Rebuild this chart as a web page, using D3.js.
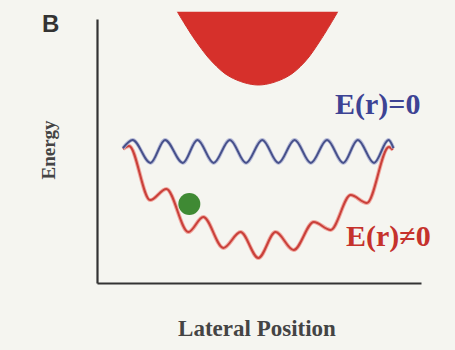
<!DOCTYPE html>
<html>
<head>
<meta charset="utf-8">
<script src="https://cdn.jsdelivr.net/npm/d3@7"></script>
<style>
  html, body { margin: 0; padding: 0; background: #f5f5f0; }
  svg { display: block; }
</style>
</head>
<body>
<svg id="chart" width="455" height="350"></svg>
<script>
// ---- data (arbitrary units: lateral position 0..10, energy 0..10) ----
const panelLabel = "B";
const xAxisTitle = "Lateral Position";
const yAxisTitle = "Energy";
const flatLabel = "E(r)=0";
const fieldLabel = "E(r)\u22600";

// E(r)=0 : periodic potential, no field
const flatX = [0.80, 1.10, 1.65, 2.10, 2.65, 3.10, 3.60, 4.10, 4.60, 5.10, 5.60, 6.10, 6.60, 7.10, 7.60, 8.05, 8.55, 9.00, 9.15];
const flatY = [5.11, 5.42, 4.55, 5.42, 4.55, 5.42, 4.55, 5.42, 4.55, 5.42, 4.55, 5.42, 4.55, 5.42, 4.55, 5.42, 4.55, 5.42, 5.11];

// E(r)≠0 : periodic potential tilted into a well
const fieldX = [0.80, 0.99, 1.64, 2.14, 2.82, 3.28, 3.90, 4.43, 4.98, 5.51, 6.07, 6.69, 7.21, 7.83, 8.33, 9.01, 9.13];
const fieldY = [5.08, 5.19, 3.14, 3.56, 1.93, 2.50, 1.33, 1.93, 0.95, 1.93, 1.25, 2.31, 2.01, 3.33, 3.03, 5.15, 5.04];

// red parabolic well at top (tip of probe)
const wellX = [2.48, 3.03, 3.56, 4.12, 4.98, 5.85, 6.41, 6.90, 7.43];
const wellY = [10.27, 9.20, 8.37, 7.80, 7.50, 7.80, 8.37, 9.20, 10.27];

// particle sitting on the tilted potential
const particleX = [2.85];
const particleY = [2.99];

// ---- drawing ----
const svg = d3.select("#chart");
const x = d3.scaleLinear().domain([0, 10]).range([97, 421]);
const y = d3.scaleLinear().domain([0, 10]).range([283, 19]);

const zip = (xs, ys) => xs.map((v, i) => [v, ys[i]]);

// well
svg.append("path")
  .datum(zip(wellX, wellY))
  .attr("d", d3.line().x(d => x(d[0])).y(d => y(d[1])).curve(d3.curveCatmullRom.alpha(0.5)))
  .attr("fill", "#d6302b")
  .attr("stroke", "#cf2d28")
  .attr("stroke-width", 1);

// axes
svg.append("g")
  .attr("transform", `translate(0,${y(0)})`)
  .call(d3.axisBottom(x).ticks(0).tickSizeOuter(0))
  .call(g => g.select(".domain").attr("stroke", "#333").attr("stroke-width", 2.2));
svg.append("g")
  .attr("transform", `translate(${x(0)},0)`)
  .call(d3.axisLeft(y).ticks(0).tickSizeOuter(0))
  .call(g => g.select(".domain").attr("stroke", "#333").attr("stroke-width", 2.2));

const line = d3.line().x(d => x(d[0])).y(d => y(d[1])).curve(d3.curveMonotoneX);

// field curve (red) with soft halo
svg.append("path").datum(zip(fieldX, fieldY)).attr("d", line)
  .attr("fill", "none").attr("stroke", "#f0a8a0").attr("stroke-width", 4);
svg.append("path").datum(zip(fieldX, fieldY)).attr("d", line)
  .attr("fill", "none").attr("stroke", "#c9403a").attr("stroke-width", 2);

// flat curve (blue)
svg.append("path").datum(zip(flatX, flatY)).attr("d", line)
  .attr("fill", "none").attr("stroke", "#b8bcd8").attr("stroke-width", 3.6);
svg.append("path").datum(zip(flatX, flatY)).attr("d", line)
  .attr("fill", "none").attr("stroke", "#46508a").attr("stroke-width", 2);

// particle
svg.selectAll("circle.particle")
  .data(zip(particleX, particleY))
  .enter().append("circle")
  .attr("class", "particle")
  .attr("cx", d => x(d[0])).attr("cy", d => y(d[1]))
  .attr("r", 11)
  .attr("fill", "#3f8a34");

// texts
svg.append("text").text(panelLabel)
  .attr("x", 42).attr("y", 32)
  .attr("font-family", "Liberation Sans, Arial, sans-serif")
  .attr("font-weight", "bold").attr("font-size", 24)
  .attr("fill", "#333");

svg.append("text").text(yAxisTitle)
  .attr("transform", `translate(55,150) rotate(-90)`)
  .attr("text-anchor", "middle")
  .attr("font-family", "Liberation Serif, Times New Roman, serif")
  .attr("font-weight", "bold").attr("font-size", 19)
  .attr("fill", "#444");

svg.append("text").text(xAxisTitle)
  .attr("x", 257).attr("y", 336)
  .attr("text-anchor", "middle")
  .attr("font-family", "Liberation Serif, Times New Roman, serif")
  .attr("font-weight", "bold").attr("font-size", 23)
  .attr("fill", "#444");

svg.append("text").text(flatLabel)
  .attr("x", 335).attr("y", 114)
  .attr("font-family", "Liberation Serif, Times New Roman, serif")
  .attr("font-weight", "bold").attr("font-size", 30)
  .attr("fill", "#3d4394");

svg.append("text").text(fieldLabel)
  .attr("x", 346).attr("y", 246)
  .attr("font-family", "Liberation Serif, Times New Roman, serif")
  .attr("font-weight", "bold").attr("font-size", 30)
  .attr("fill", "#c5322c");
</script>
</body>
</html>
